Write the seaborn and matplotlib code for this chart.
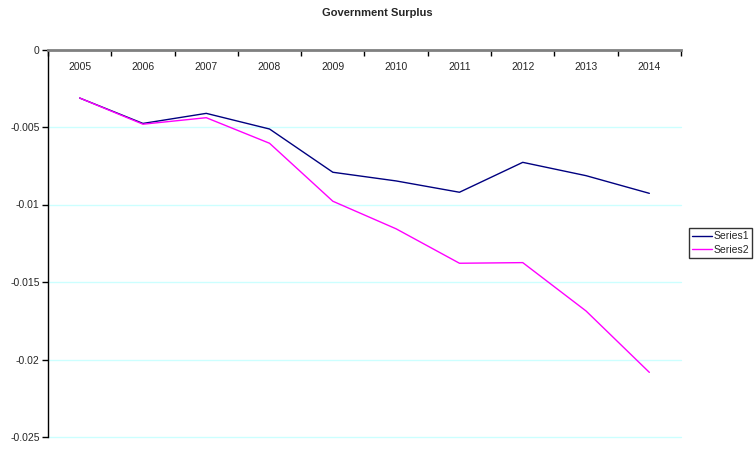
import matplotlib as mpl
mpl.use('Agg')
import numpy as np
import pandas as pd
import seaborn as sns
import matplotlib.pyplot as plt
from matplotlib.ticker import FixedLocator, FuncFormatter

years = [2005, 2006, 2007, 2008, 2009, 2010, 2011, 2012, 2013, 2014]
series1 = [-0.00313, -0.00477, -0.00412, -0.00513, -0.00792, -0.00848,
           -0.00921, -0.00728, -0.00814, -0.00928]
series2 = [-0.00313, -0.00482, -0.00440, -0.00605, -0.00979, -0.01157,
           -0.01379, -0.01375, -0.01687, -0.02083]
series_names = ['Series1', 'Series2']
colors = ['#000080', '#FF00FF']
y_ticks = [0, -0.005, -0.01, -0.015, -0.02, -0.025]

df = pd.DataFrame({
    'year': years * 2,
    'value': series1 + series2,
    'series': [series_names[0]] * len(years) + [series_names[1]] * len(years),
})

sns.set_style('white')
plt.rcParams['font.family'] = ['Liberation Sans', 'DejaVu Sans']

fig = plt.figure(figsize=(7.54, 4.49), dpi=100)
ax = fig.add_axes([48 / 754, 12 / 449, 633 / 754, 387.5 / 449])

sns.lineplot(data=df, x='year', y='value', hue='series',
             palette=dict(zip(series_names, colors)), linewidth=1.0, ax=ax)

ax.set_xlim(years[0] - 0.5, years[-1] + 0.5)
ax.set_ylim(y_ticks[-1], y_ticks[0])

# x axis sits on top (y = 0), ticks at category edges, labels inside
ax.xaxis.tick_top()
ax.xaxis.set_major_locator(FixedLocator(np.arange(years[0] - 0.5, years[-1] + 1, 1)))
ax.xaxis.set_minor_locator(FixedLocator(years))
ax.xaxis.set_major_formatter(FuncFormatter(lambda v, p: ''))
ax.xaxis.set_minor_formatter(FuncFormatter(lambda v, p: str(int(round(v)))))
ax.tick_params(axis='x', which='major', direction='in', length=4, width=1,
               color='black', top=True, bottom=False)
ax.tick_params(axis='x', which='minor', length=0, top=True, bottom=False,
               labeltop=True, labelbottom=False, pad=-16, labelsize=7.5)

ax.set_yticks(y_ticks)
ax.yaxis.set_major_formatter(FuncFormatter(lambda v, p: '%g' % v))
ax.tick_params(axis='y', direction='out', length=4, width=1, color='black',
               left=True, labelsize=7.5, pad=2)

ax.grid(axis='y', color='#ccffff', linewidth=1)
ax.grid(axis='x', visible=False)
for gl in ax.yaxis.get_gridlines():
    gl.set_clip_on(False)
ax.set_axisbelow(True)

ax.spines['left'].set_color('black')
ax.spines['left'].set_linewidth(1)
ax.spines['top'].set_color('#808080')
ax.spines['top'].set_linewidth(2)
ax.spines['right'].set_visible(False)
ax.spines['bottom'].set_visible(False)

ax.set_xlabel('')
ax.set_ylabel('')

leg = ax.legend(loc='center left', bbox_to_anchor=(689 / 754, 1 - 243 / 449),
                bbox_transform=fig.transFigure, frameon=True, fancybox=False,
                fontsize=7.5, handlelength=1.9, handletextpad=0.15,
                borderpad=0.3, borderaxespad=0, labelspacing=0.3)
leg.get_frame().set_edgecolor('black')
leg.get_frame().set_linewidth(1)

fig.suptitle('Government Surplus', fontsize=8, fontweight='bold', y=1 - 13 / 449, va='center')

plt.savefig('out.png', dpi=100)
